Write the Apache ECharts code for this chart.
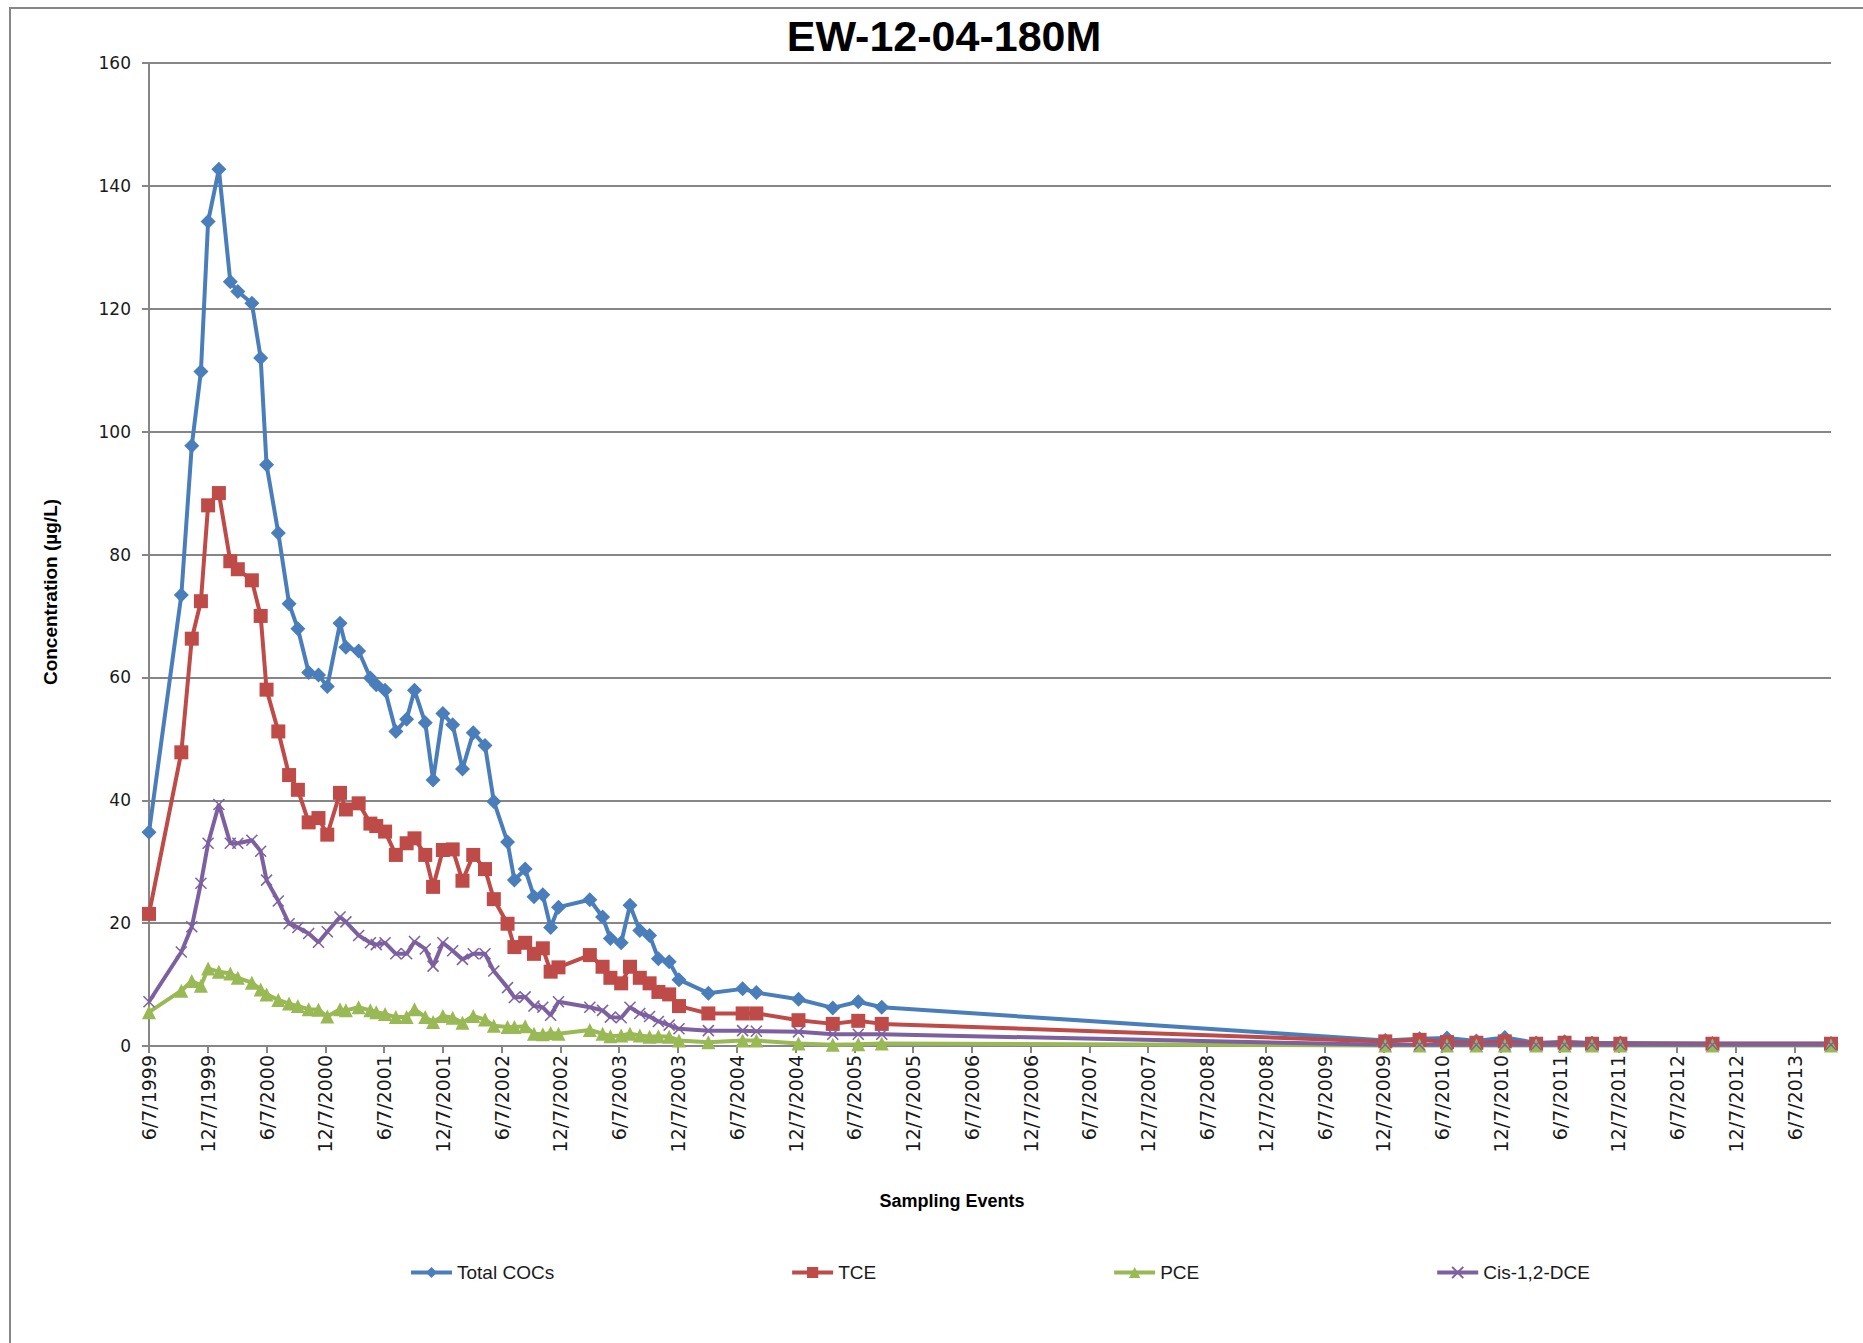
<!DOCTYPE html>
<html>
<head>
<meta charset="utf-8">
<title>EW-12-04-180M</title>
<script src="https://cdn.jsdelivr.net/npm/echarts@6/dist/echarts.min.js"></script>
<style>
  html, body { margin: 0; padding: 0; background: #fff; }
  #chart { width: 1863px; height: 1343px; }
</style>
</head>
<body>
<div id="chart"></div>
<script>
// sampling dates (yyyy-mm-dd)
var sampleDates = [
  '1999-06-07','1999-09-16','1999-10-18','1999-11-16','1999-12-08',
  '2000-01-11','2000-02-16','2000-03-09','2000-04-22','2000-05-19','2000-06-07','2000-07-13','2000-08-16','2000-09-13','2000-10-16','2000-11-16','2000-12-13',
  '2001-01-22','2001-02-10','2001-03-19','2001-04-25','2001-05-13','2001-06-10','2001-07-13','2001-08-16','2001-09-10','2001-10-13','2001-11-07','2001-12-07',
  '2002-01-07','2002-02-07','2002-03-10','2002-04-16','2002-05-13','2002-06-25','2002-07-16','2002-08-19','2002-09-16','2002-10-13','2002-11-07','2002-12-01',
  '2003-03-07','2003-04-16','2003-05-10','2003-06-13','2003-07-10','2003-08-10','2003-09-10','2003-10-07','2003-11-10','2003-12-10',
  '2004-03-10','2004-06-25','2004-08-07','2004-12-16',
  '2005-04-01','2005-06-19','2005-09-01',
  '2009-12-13','2010-03-28','2010-06-22','2010-09-22','2010-12-19','2011-03-25','2011-06-22','2011-09-16','2011-12-13','2012-09-25','2013-09-28'
];

var totalCOCs = [
  34.8, 73.4, 97.7, 109.8, 134.2,
  142.7, 124.4, 122.8, 120.9, 112.0, 94.6, 83.5, 72.0, 67.9, 60.8, 60.4, 58.5,
  68.8, 64.9, 64.3, 59.9, 58.8, 57.9, 51.2, 53.2, 57.9, 52.6, 43.3, 54.1,
  52.3, 45.1, 51.0, 48.9, 39.8, 33.2, 27.0, 28.8, 24.3, 24.6, 19.3, 22.6,
  23.8, 21.0, 17.5, 16.8, 22.9, 18.8, 18.0, 14.2, 13.7, 10.8,
  8.6, 9.3, 8.7, 7.6,
  6.2, 7.2, 6.3,
  0.9, 1.2, 1.3, 0.8, 1.4, 0.5, 0.7, 0.5, 0.5, 0.4, 0.4
];

var tce = [
  21.5, 47.8, 66.3, 72.4, 88.0,
  90.0, 78.9, 77.6, 75.8, 70.0, 58.0, 51.2, 44.1, 41.7, 36.4, 37.1, 34.4,
  41.2, 38.5, 39.5, 36.2, 35.8, 34.9, 31.1, 33.0, 33.8, 31.1, 25.9, 31.9,
  32.0, 26.9, 31.1, 28.8, 23.9, 19.9, 16.1, 16.8, 15.0, 15.9, 12.1, 12.8,
  14.8, 12.9, 11.1, 10.2, 12.9, 11.1, 10.2, 8.8, 8.4, 6.5,
  5.3, 5.3, 5.3, 4.2,
  3.6, 4.1, 3.6,
  0.75, 1.0, 0.64, 0.53, 0.75, 0.37, 0.53, 0.37, 0.37, 0.37, 0.37
];

var pce = [
  5.5, 9.0, 10.6, 9.8, 12.6,
  12.1, 11.8, 11.1, 10.3, 9.2, 8.4, 7.5, 6.9, 6.5, 6.0, 5.9, 4.8,
  6.0, 5.8, 6.3, 5.8, 5.5, 5.2, 4.7, 4.7, 6.0, 4.7, 3.9, 4.9,
  4.6, 3.8, 4.9, 4.3, 3.3, 3.1, 3.1, 3.2, 2.0, 1.9, 2.1, 2.0,
  2.6, 2.0, 1.6, 1.7, 2.0, 1.7, 1.5, 1.6, 1.5, 0.9,
  0.6, 0.9, 0.9, 0.4,
  0.2, 0.3, 0.4,
  0.1, 0.1, 0.1, 0.1, 0.1, 0.1, 0.1, 0.1, 0.1, 0.1, 0.1
];

var cisDCE = [
  7.2, 15.3, 19.4, 26.5, 33.0,
  39.3, 33.0, 33.0, 33.5, 31.7, 27.0, 23.6, 19.9, 19.3, 18.3, 16.9, 18.6,
  21.0, 20.2, 18.0, 16.8, 16.5, 16.8, 15.0, 15.0, 17.0, 15.8, 13.0, 16.8,
  15.5, 14.1, 15.0, 15.0, 12.2, 9.5, 7.9, 8.0, 6.5, 6.3, 5.0, 7.2,
  6.3, 5.8, 4.7, 4.6, 6.3, 5.3, 4.8, 4.0, 3.4, 2.8,
  2.5, 2.5, 2.4, 2.3,
  1.9, 1.9, 1.9,
  0.2, 0.2, 0.2, 0.2, 0.2, 0.2, 0.2, 0.2, 0.2, 0.2, 0.2
];

var seriesNames = ['Total COCs', 'TCE', 'PCE', 'Cis-1,2-DCE'];
var yMin = 0, yMax = 160, yStep = 20;
var tickMonths = 6; // a tick every 6 months from 6/7/1999

// months after 6/7/1999
function toMonths(s) {
  var p = s.split('-');
  return (+p[0] - 1999) * 12 + (+p[1] - 6) + (+p[2] - 7) / 30;
}
function pairs(vals) {
  return sampleDates.map(function (d, i) { return [toMonths(d), vals[i]]; });
}
function tickLabel(v) {
  var r = Math.round(v);
  if (Math.abs(v - r) > 0.01 || r % tickMonths !== 0) return '';
  var m = 5 + r;
  return ((m % 12) + 1) + '/7/' + (1999 + Math.floor(m / 12));
}

var grey = '#868686';
var xMark = 'path://M0,0L10,10M10,0L0,10';

function lineSeries(name, vals, color, symbol, size, extra) {
  var s = {
    name: name,
    type: 'line',
    data: pairs(vals),
    symbol: symbol,
    symbolSize: size,
    showAllSymbol: true,
    lineStyle: { color: color, width: 4 },
    itemStyle: { color: color },
    emphasis: { disabled: true },
    animation: false
  };
  if (extra) for (var k in extra) s[k] = extra[k];
  return s;
}

var chart = echarts.init(document.getElementById('chart'), null, { renderer: 'svg' });
chart.setOption({
  backgroundColor: '#fff',
  animation: false,
  title: {
    text: 'EW-12-04-180M',
    left: 939,
    top: 9,
    textAlign: 'center',
    textStyle: { fontFamily: 'Liberation Sans', fontWeight: 'bold', fontSize: 43, color: '#000' }
  },
  grid: { left: 149, right: 32, top: 63, bottom: 297, containLabel: false },
  legend: {
    data: seriesNames,
    left: 404,
    top: 1258,
    itemGap: 236,
    itemWidth: 41,
    itemHeight: 14,
    lineStyle: { width: 4 },
    textStyle: { fontFamily: 'Liberation Sans', fontSize: 19, color: '#1a1a1a' }
  },
  xAxis: {
    type: 'value',
    min: 0,
    max: toMonths(sampleDates[sampleDates.length - 1]),
    interval: tickMonths,
    axisLine: { show: true, onZero: false, lineStyle: { color: grey, width: 2 } },
    axisTick: { show: true, length: 7, lineStyle: { color: grey, width: 2 } },
    splitLine: { show: false },
    axisLabel: {
      rotate: 90,
      margin: 9,
      showMaxLabel: false,
      fontFamily: 'DejaVu Sans',
      fontSize: 19,
      color: '#1a1a1a',
      formatter: tickLabel
    }
  },
  yAxis: {
    type: 'value',
    min: yMin,
    max: yMax,
    interval: yStep,
    axisLine: { show: true, lineStyle: { color: grey, width: 2 } },
    axisTick: { show: true, length: 7, lineStyle: { color: grey, width: 2 } },
    splitLine: { show: true, lineStyle: { color: grey, width: 2 } },
    axisLabel: { margin: 18, fontFamily: 'DejaVu Sans', fontSize: 17, color: '#1a1a1a' }
  },
  graphic: [
    {
      type: 'rect', silent: true, z: -10,
      shape: { x: 10, y: 8, width: 1900, height: 1400 },
      style: { fill: 'none', stroke: grey, lineWidth: 2 }
    },
    {
      type: 'text', x: 952, y: 1201, silent: true,
      style: { text: 'Sampling Events', align: 'center', verticalAlign: 'middle',
               font: 'bold 18px "Liberation Sans"', fill: '#000' }
    },
    {
      type: 'text', x: 50, y: 592, rotation: Math.PI / 2, silent: true,
      style: { text: 'Concentration (µg/L)', align: 'center', verticalAlign: 'middle',
               font: 'bold 19px "Liberation Sans"', fill: '#000' }
    }
  ],
  series: [
    lineSeries(seriesNames[0], totalCOCs, '#4A7EBB', 'diamond', 15),
    lineSeries(seriesNames[1], tce, '#BE4B48', 'rect', 14),
    lineSeries(seriesNames[2], pce, '#98B954', 'triangle', 14),
    lineSeries(seriesNames[3], cisDCE, '#7D60A0', xMark, 11, {
      itemStyle: { color: 'rgba(0,0,0,0)', borderColor: '#7D60A0', borderWidth: 1.5 }
    })
  ]
});
</script>
</body>
</html>
